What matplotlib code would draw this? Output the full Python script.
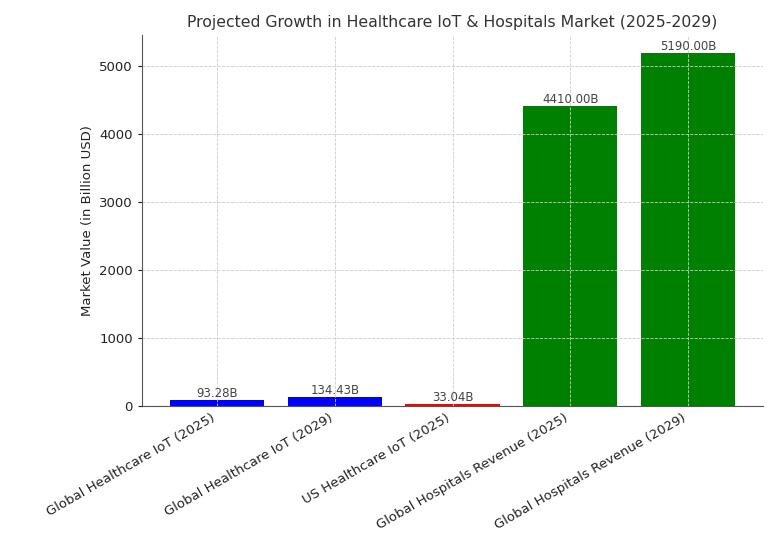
import matplotlib.pyplot as plt

categories = ['Global Healthcare IoT (2025)', 'Global Healthcare IoT (2029)',
              'US Healthcare IoT (2025)', 'Global Hospitals Revenue (2025)',
              'Global Hospitals Revenue (2029)']
values = [93.28, 134.43, 33.04, 4410.00, 5190.00]
colors = ['blue', 'blue', 'red', 'green', 'green']

plt.rcParams['text.color'] = '#333333'
plt.rcParams['axes.labelcolor'] = '#222222'

fig = plt.figure(figsize=(7.83, 5.33), dpi=100)
ax = fig.add_axes([0.181, 0.238, 0.794, 0.696])

bars = ax.bar(categories, values, color=colors, width=0.8)
for b, v in zip(bars, values):
    ax.text(b.get_x() + b.get_width() / 2, b.get_height(), f'{v:.2f}B',
            ha='center', va='bottom', fontsize=8.5, color='#444444')

ax.set_title('Projected Growth in Healthcare IoT & Hospitals Market (2025-2029)',
             fontsize=11.3, color='#333333')
ax.set_ylabel('Market Value (in Billion USD)', fontsize=9.5)
ax.grid(True, linestyle='--', linewidth=0.6, color='#cccccc')
ax.set_axisbelow(False)
for s in ['top', 'right']:
    ax.spines[s].set_visible(False)
for s in ['left', 'bottom']:
    ax.spines[s].set_color('#555555')
plt.setp(ax.get_xticklabels(), rotation=30, ha='right')
ax.tick_params(labelsize=9.5, colors='#222222', length=3)
ax.tick_params(axis='x', length=0, pad=4)

fig.savefig('out.png', dpi=100)
